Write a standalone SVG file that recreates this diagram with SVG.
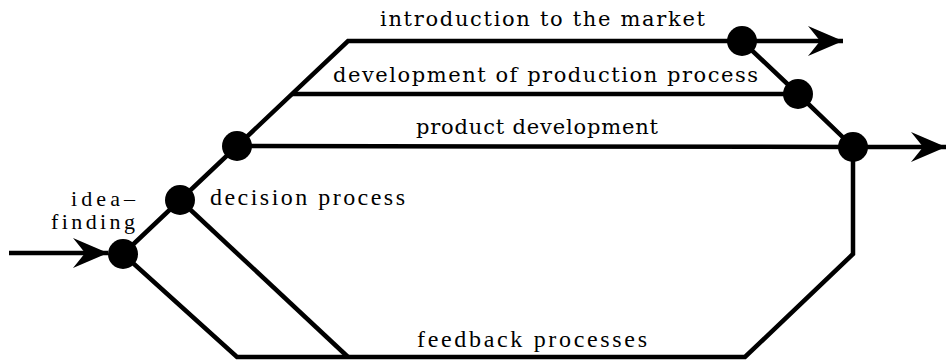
<svg xmlns="http://www.w3.org/2000/svg" width="949" height="360" viewBox="0 0 949 360">
<style>
.ln{fill:none;stroke:#000;stroke-width:4.5;stroke-linejoin:miter;stroke-linecap:butt}
.nd{fill:#000}
.t1{font-family:"DejaVu Serif","Liberation Serif",serif;font-size:21px;fill:#000}
.t2{font-family:"Liberation Serif","DejaVu Serif",serif;font-size:24px;fill:#000}
.t3{font-family:"Liberation Serif","DejaVu Serif",serif;font-size:22px;fill:#000}
</style>
<defs>
<marker id="ah" markerUnits="userSpaceOnUse" markerWidth="40" markerHeight="36" viewBox="-36 -18 40 36" refX="0" refY="0" orient="auto">
<path d="M0,0 L-35,-15 Q-26,-4 -23,0 Q-26,4 -35,15 Z" fill="#000"/>
</marker>
</defs>
<g id="connectors">
<path class="ln" d="M123,254 L348,41 L742,41"/>
<path class="ln" d="M292,94 L798,94"/>
<path class="ln" d="M237,146 L853,147"/>
<path class="ln" d="M742,41 L798,94 L853,147"/>
<path class="ln" d="M853,147 L853,254 L745,357 L237,357 L123,254"/>
<path class="ln" d="M180,200 L348,357"/>
<path class="ln" d="M9,253 L108,253" marker-end="url(#ah)"/>
<path class="ln" d="M742,41 L843,41" marker-end="url(#ah)"/>
<path class="ln" d="M853,147 L946,147" marker-end="url(#ah)"/>
</g>
<g id="labels">
<text class="t1" x="380" y="26" textLength="325">introduction to the market</text>
<text class="t1" x="333" y="82" textLength="425">development of production process</text>
<text class="t1" x="416" y="134" textLength="242">product development</text>
<text class="t2" x="210" y="205" textLength="195">decision process</text>
<text class="t3" x="71" y="206" textLength="64">idea–</text>
<text class="t3" x="51" y="229" textLength="84">finding</text>
<text class="t2" x="417" y="347" textLength="230">feedback processes</text>
</g>
<g id="node-idea-finding"><circle class="nd" cx="123" cy="254" r="15"/></g>
<g id="node-decision"><circle class="nd" cx="180" cy="200" r="15"/></g>
<g id="node-product-start"><circle class="nd" cx="237" cy="146" r="15"/></g>
<g id="node-market"><circle class="nd" cx="742" cy="41" r="15"/></g>
<g id="node-production"><circle class="nd" cx="798" cy="94" r="15"/></g>
<g id="node-product-end"><circle class="nd" cx="853" cy="147" r="15"/></g>
</svg>
